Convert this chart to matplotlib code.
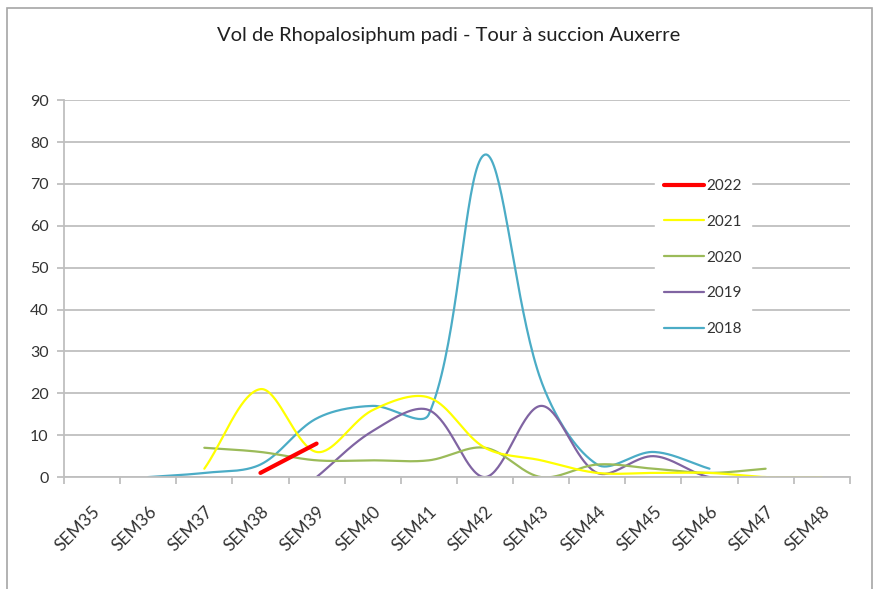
import matplotlib
matplotlib.use("Agg")
import matplotlib.pyplot as plt
from matplotlib.patches import Rectangle
import numpy as np

plt.rcParams['font.family'] = ['Lato', 'DejaVu Sans']

# weekly catches, None = no trap data that week
weeks = ['SEM35', 'SEM36', 'SEM37', 'SEM38', 'SEM39', 'SEM40', 'SEM41',
         'SEM42', 'SEM43', 'SEM44', 'SEM45', 'SEM46', 'SEM47', 'SEM48']
y2022 = [None, None, None, 1, 8, None, None, None, None, None, None, None, None, None]
y2021 = [None, None, 2, 21, 6, 16, 19, 7, 4, 1, 1, 1, 0, 0]
y2020 = [None, None, 7, 6, 4, 4, 4, 7, 0, 3, 2, 1, 2, None]
y2019 = [None, None, None, None, 0, 11, 16, 0, 17, 1, 5, 0, 0, None]
y2018 = [None, 0, 1, 3, 14, 17, 15, 77, 23, 3, 6, 2, None, None]

series = [
    ('2018', y2018, '#4BACC6', 1.6, True),
    ('2019', y2019, '#8064A2', 1.6, True),
    ('2020', y2020, '#9BBB59', 1.6, True),
    ('2021', y2021, '#FFFF00', 1.6, True),
    ('2022', y2022, '#FF0000', 3.0, False),
]

# rough pixel size of one data unit, so the smoothing behaves like excel's
XPX, YPX = 56.0, 4.19


def smooth(xs, ys, n=40):
    # bezier segments, tangents scaled by neighbouring chord lengths (screen space)
    pts = np.column_stack([np.array(xs) * XPX, np.array(ys) * YPX]).astype(float)
    if len(pts) < 3:
        return xs, ys
    p = np.vstack([pts[0], pts, pts[-1]])
    L = np.linalg.norm(np.diff(p, axis=0), axis=1)
    t = np.linspace(0, 1, n)[:, None]
    out = []
    for i in range(1, len(p) - 2):
        p0, p3 = p[i], p[i + 1]
        T0 = p[i + 1] - p[i - 1]
        T1 = p[i + 2] - p[i]
        a = L[i] / max(L[i - 1] + L[i], 1e-9) / 1.5
        b = L[i] / max(L[i] + L[i + 1], 1e-9) / 1.5
        c1 = p0 + T0 * a / 2
        c2 = p3 - T1 * b / 2
        seg = ((1 - t) ** 3) * p0 + 3 * ((1 - t) ** 2) * t * c1 + 3 * (1 - t) * t ** 2 * c2 + t ** 3 * p3
        out.append(seg if i == 1 else seg[1:])
    out = np.vstack(out)
    return out[:, 0] / XPX, out[:, 1] / YPX


fig = plt.figure(figsize=(8.79, 5.89), dpi=100)
ax = fig.add_axes([0.0728, 0.19, 0.894, 0.64])

handles = {}
for name, vals, col, lw, sm in series:
    xs = [i for i, v in enumerate(vals) if v is not None]
    ys = [v for v in vals if v is not None]
    if sm:
        sx, sy = smooth(xs, ys)
    else:
        sx, sy = xs, ys
    line, = ax.plot(sx, sy, color=col, lw=lw, solid_capstyle='round', label=name)
    handles[name] = line

ax.set_xlim(-0.5, len(weeks) - 0.5)
ax.set_ylim(0, 90)
ax.set_yticks(range(0, 91, 10))
ax.yaxis.grid(True, color='#BFBFBF', lw=1.3)
ax.set_axisbelow(True)

ax.set_xticks(range(len(weeks)))
ax.set_xticklabels(weeks, rotation=45, ha='right', va='top', rotation_mode='anchor')
ax.set_xticks(np.arange(-0.5, len(weeks)), minor=True)
ax.tick_params(axis='x', which='major', length=0, pad=19, labelsize=12.5, labelcolor='#333333')
ax.tick_params(axis='x', which='minor', length=5, color='#BFBFBF', width=1.3)
ax.tick_params(axis='y', length=5, color='#BFBFBF', width=1.3, labelsize=11.5,
               labelcolor='#333333', pad=6)

for s in ['top', 'right']:
    ax.spines[s].set_visible(False)
for s in ['left', 'bottom']:
    ax.spines[s].set_color('#BFBFBF')
    ax.spines[s].set_linewidth(1.3)

order = ['2022', '2021', '2020', '2019', '2018']
leg = ax.legend([handles[k] for k in order], order, loc='upper left',
                bbox_to_anchor=(0.742, 0.835), fontsize=11, labelspacing=1.42,
                handlelength=2.6, handletextpad=0.2, borderpad=0.6,
                frameon=True, fancybox=False, framealpha=1)
leg.get_frame().set_edgecolor('white')
leg.get_frame().set_facecolor('white')
for t in leg.get_texts():
    t.set_color('#333333')

fig.text(0.51, 0.94, 'Vol de Rhopalosiphum padi - Tour à succion Auxerre',
         ha='center', va='center', fontsize=14.5, color='#202020')

fig.patches.append(Rectangle((7 / 879, -0.02), 865 / 879, 1 - 8 / 589 + 0.02,
                             transform=fig.transFigure, fill=False,
                             edgecolor='#A6A6A6', lw=1.2))

fig.savefig('out.png', dpi=100)
